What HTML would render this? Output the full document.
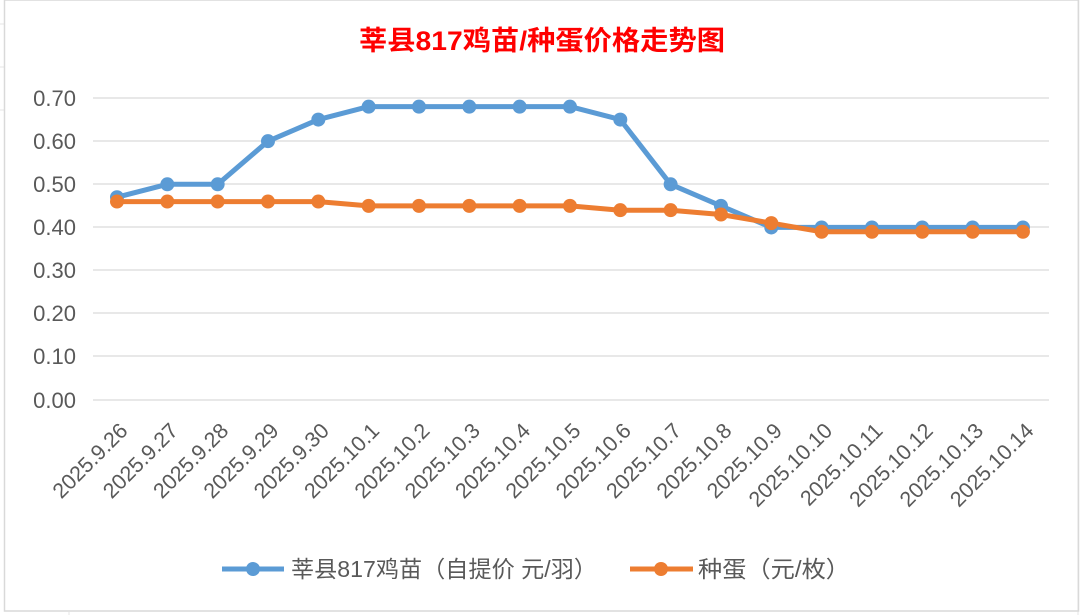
<!DOCTYPE html>
<html><head><meta charset="utf-8"><style>
body{margin:0;background:#fff;}
svg{display:block;font-family:"Liberation Sans","Noto Sans CJK SC",sans-serif;}
</style></head><body>
<svg width="1084" height="615" viewBox="0 0 1084 615">
<rect x="0" y="0" width="1084" height="615" fill="#fff"/>
<g stroke="#e6e6e6" stroke-width="1">
<line x1="0" y1="24" x2="4" y2="24"/><line x1="0" y1="67" x2="4" y2="67"/><line x1="0" y1="110" x2="4" y2="110"/>
<line x1="69" y1="612" x2="69" y2="615"/><line x1="1078" y1="0" x2="1078" y2="615"/>
</g>
<rect x="4.5" y="0" width="1074" height="611" fill="none" stroke="#d9d9d9" stroke-width="1.5"/>
<text x="542" y="50" text-anchor="middle" font-size="27" font-weight="bold" fill="#ff0000" textLength="366" lengthAdjust="spacingAndGlyphs">莘县817鸡苗/种蛋价格走势图</text>
<g stroke="#d9d9d9" stroke-width="1.3">
<line x1="93" y1="98" x2="1049" y2="98"/><line x1="93" y1="141" x2="1049" y2="141"/>
<line x1="93" y1="184" x2="1049" y2="184"/><line x1="93" y1="227" x2="1049" y2="227"/>
<line x1="93" y1="270" x2="1049" y2="270"/><line x1="93" y1="313" x2="1049" y2="313"/>
<line x1="93" y1="356" x2="1049" y2="356"/><line x1="93" y1="400" x2="1049" y2="400"/>
</g>
<g font-size="22" fill="#595959" text-anchor="end">
<text x="76" y="106">0.70</text><text x="76" y="149">0.60</text><text x="76" y="192">0.50</text>
<text x="76" y="235">0.40</text><text x="76" y="278">0.30</text><text x="76" y="321">0.20</text>
<text x="76" y="364">0.10</text><text x="76" y="408">0.00</text>
</g>
<g id="lbl" font-size="21.5" fill="#595959" text-anchor="end"></g>
<polyline id="b" fill="none" stroke="#5b9bd5" stroke-width="5" stroke-linejoin="round"/>
<polyline id="o" fill="none" stroke="#ed7d31" stroke-width="5" stroke-linejoin="round"/>
<g id="bm" fill="#5b9bd5"></g><g id="om" fill="#ed7d31"></g>
<line x1="222" y1="569" x2="284" y2="569" stroke="#5b9bd5" stroke-width="5"/>
<circle cx="253" cy="569" r="7" fill="#5b9bd5"/>
<text x="291" y="577" font-size="23" fill="#595959" textLength="306" lengthAdjust="spacingAndGlyphs">莘县817鸡苗（自提价 元/羽）</text>
<line x1="630" y1="569" x2="693" y2="569" stroke="#ed7d31" stroke-width="5"/>
<circle cx="661" cy="569" r="7" fill="#ed7d31"/>
<text x="698" y="577" font-size="23" fill="#595959" textLength="152" lengthAdjust="spacingAndGlyphs">种蛋（元/枚）</text>
</svg>
<script>
var b=[.47,.50,.50,.60,.65,.68,.68,.68,.68,.68,.65,.50,.45,.40,.40,.40,.40,.40,.40];
var o=[.46,.46,.46,.46,.46,.45,.45,.45,.45,.45,.44,.44,.43,.41,.39,.39,.39,.39,.39];
var L=["2025.9.26","2025.9.27","2025.9.28","2025.9.29","2025.9.30","2025.10.1","2025.10.2","2025.10.3","2025.10.4","2025.10.5","2025.10.6","2025.10.7","2025.10.8","2025.10.9","2025.10.10","2025.10.11","2025.10.12","2025.10.13","2025.10.14"];
function X(i){return 117+i*50.33}function Y(v){return 400-v*431.4}
var ns="http://www.w3.org/2000/svg";
function pts(a){return a.map(function(v,i){return X(i).toFixed(1)+","+Y(v).toFixed(1)}).join(" ")}
document.getElementById("b").setAttribute("points",pts(b));
document.getElementById("o").setAttribute("points",pts(o));
function mk(a,id){var g=document.getElementById(id);a.forEach(function(v,i){var c=document.createElementNS(ns,"circle");c.setAttribute("cx",X(i));c.setAttribute("cy",Y(v));c.setAttribute("r",7);g.appendChild(c);});}
mk(b,"bm");mk(o,"om");
var g=document.getElementById("lbl");
L.forEach(function(t,i){var e=document.createElementNS(ns,"text");var x=X(i)+12,y=432;e.setAttribute("x",x);e.setAttribute("y",y);e.setAttribute("transform","rotate(-45 "+x+" "+y+")");e.textContent=t;g.appendChild(e);});
</script>
</body></html>
